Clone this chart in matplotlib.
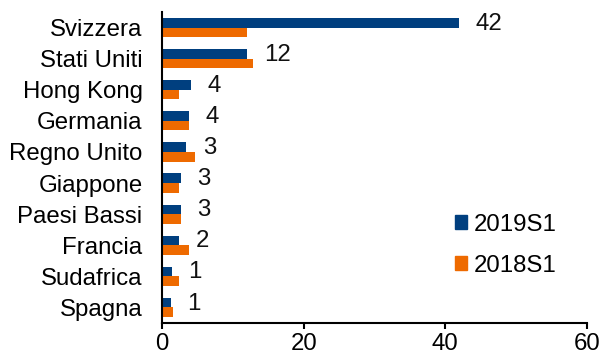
import matplotlib
matplotlib.use("Agg")
import matplotlib.pyplot as plt
from matplotlib.patches import Patch

plt.rcParams["font.family"] = ["Liberation Sans", "DejaVu Sans"]

countries = ["Svizzera", "Stati Uniti", "Hong Kong", "Germania", "Regno Unito",
             "Giappone", "Paesi Bassi", "Francia", "Sudafrica", "Spagna"]
s2019 = [41.9, 12.0, 4.05, 3.8, 3.4, 2.65, 2.65, 2.35, 1.4, 1.2]
s2018 = [12.0, 12.8, 2.35, 3.8, 4.6, 2.35, 2.65, 3.75, 2.35, 1.5]
series_names = ["2019S1", "2018S1"]
xticks = [0, 20, 40, 60]

blue = "#003F7F"
orange = "#EE6A00"
fs = 17.3

fig = plt.figure(figsize=(6.03, 3.58), dpi=100)
ax = fig.add_axes([162 / 603, 35 / 358, 425 / 603, 311 / 358])

h = 0.31
pos = list(range(len(countries)))
ax.barh([p - h / 2 for p in pos], s2019, height=h, color=blue)
ax.barh([p + h / 2 for p in pos], s2018, height=h, color=orange)

for p, v in zip(pos, s2019):
    ax.annotate(f"{v:.0f}", xy=(v, p - h / 2 + 0.03), xytext=(12, 0),
                textcoords="offset points", ha="left", va="center",
                fontsize=fs, color="#111111")

ax.set_xlim(0, 60)
ax.set_ylim(len(countries) - 0.5, -0.5)
ax.set_xticks(xticks)
ax.set_xticklabels([str(t) for t in xticks], fontsize=fs)
ax.set_yticks(pos)
ax.set_yticklabels(countries, fontsize=fs)
ax.tick_params(axis="x", direction="out", length=4, width=1.5, pad=3)
ax.tick_params(axis="y", length=0, pad=14)

for side in ["top", "right"]:
    ax.spines[side].set_visible(False)
for side in ["left", "bottom"]:
    ax.spines[side].set_linewidth(1.5)
    ax.spines[side].set_color("black")

handles = [Patch(color=blue), Patch(color=orange)]
ax.legend(handles, series_names, loc="center left",
          bbox_to_anchor=(271 / 425, 0.25), frameon=False, fontsize=fs,
          handlelength=0.5, handleheight=0.5, handletextpad=0.3,
          labelspacing=0.8)

fig.savefig("out.png", dpi=100)
